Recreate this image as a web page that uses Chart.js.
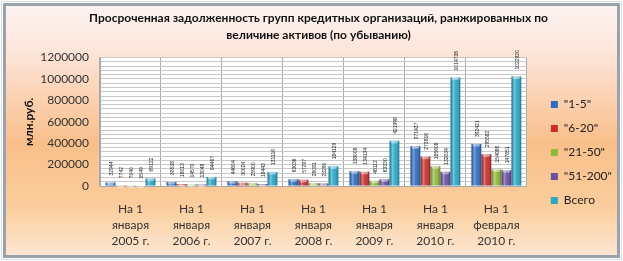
<!DOCTYPE html>
<html><head><meta charset="utf-8">
<script src="https://cdn.jsdelivr.net/npm/chart.js@4/dist/chart.umd.min.js"></script>
<style>html,body{margin:0;padding:0;background:#fff;}canvas{display:block;}</style>
</head><body>
<canvas id="c" width="623" height="261"></canvas>
<script>
const categories = [
  ["На 1","января","2005 г."],
  ["На 1","января","2006 г."],
  ["На 1","января","2007 г."],
  ["На 1","января","2008 г."],
  ["На 1","января","2009 г."],
  ["На 1","января","2010 г."],
  ["На 1","февраля","2010 г."]
];
const seriesNames = ['"1-5"', '"6-20"', '"21-50"', '"51-200"', 'Всего'];
const s1_5 = [32944, 38538, 44604, 63036, 138008, 371437, 392421];
const s6_20 = [7742, 18013, 30024, 57297, 134134, 273816, 295582];
const s21_50 = [7040, 14570, 25900, 26081, 48112, 185608, 154986];
const s51_200 = [5549, 13048, 18443, 23290, 63330, 132034, 147851];
const total = [69122, 84467, 131116, 184129, 421998, 1014736, 1022920];
const yTickLabels = [0, 200000, 400000, 600000, 800000, 1000000, 1200000];
const colors = ['#2f6cc0', '#c4302e', '#8fb73a', '#6b4ea0', '#2aa6c6'];

const bgPlugin = {
  id: 'bg',
  beforeLayout(chart) {
    const lg = chart.legend;
    if (lg && !lg._patched) {
      const f = lg.fit;
      lg.fit = function () { f.call(this); this.width += 7; };
      lg._patched = true;
    }
  },
  afterLayout(chart) {
    const lg = chart.legend;
    if (lg) { lg.top += 44; lg.left += 12; lg.right += 12; }
  },
  beforeDraw(chart) {
    const ctx = chart.ctx, W = chart.width, H = chart.height;
    ctx.save();
    ctx.fillStyle = '#ffffff';
    ctx.fillRect(0, 0, W, H);
    const g = ctx.createLinearGradient(0, 4, 0, H - 4);
    g.addColorStop(0, '#fdf4f2');
    g.addColorStop(0.2, '#fde4d8');
    g.addColorStop(0.55, '#f9bf8a');
    g.addColorStop(0.8, '#fbcd9c');
    g.addColorStop(1, '#fde7d4');
    ctx.fillStyle = g;
    ctx.fillRect(4, 4, W - 8, H - 8);
    ctx.strokeStyle = '#9aa3ad';
    ctx.lineWidth = 3;
    ctx.strokeRect(4.5, 4.5, W - 9, H - 9);
    ctx.strokeStyle = '#d8dde3';
    ctx.lineWidth = 1;
    ctx.strokeRect(1.5, 1.5, W - 3, H - 3);
    const a = chart.chartArea;
    ctx.fillStyle = '#ffffff';
    ctx.fillRect(a.left, a.top, a.right - a.left, a.bottom - a.top);
    ctx.restore();
  }
};

const barStyle = {
  id: 'barStyle',
  afterDatasetsDraw(chart) {
    const ctx = chart.ctx;
    ctx.save();
    chart.data.datasets.forEach((ds, di) => {
      const meta = chart.getDatasetMeta(di);
      meta.data.forEach((bar, i) => {
        const p = bar.getProps(['x', 'y', 'base', 'width'], true);
        const l = p.x - p.width / 2, r = p.x + p.width / 2;
        const g = ctx.createLinearGradient(l, 0, r, 0);
        g.addColorStop(0, 'rgba(0,0,0,0.25)');
        g.addColorStop(0.3, 'rgba(255,255,255,0.35)');
        g.addColorStop(0.55, 'rgba(255,255,255,0.05)');
        g.addColorStop(1, 'rgba(0,0,0,0.3)');
        ctx.fillStyle = g;
        ctx.fillRect(l, p.y, p.width, p.base - p.y);
        ctx.fillStyle = 'rgba(255,255,255,0.45)';
        ctx.beginPath();
        ctx.ellipse(p.x, p.y + 1, p.width / 2 - 1, 1.6, 0, 0, Math.PI * 2);
        ctx.fill();
        ctx.save();
        ctx.translate(p.x + 1.5, p.y - 7);
        ctx.rotate(-Math.PI / 2);
        ctx.fillStyle = '#222';
        ctx.font = '5px "Liberation Sans"';
        ctx.textAlign = 'left';
        ctx.textBaseline = 'middle';
        ctx.fillText(String(ds.data[i]), 0, 0);
        ctx.restore();
      });
    });
    ctx.restore();
  }
};

const datasets = [s1_5, s6_20, s21_50, s51_200, total].map((d, i) => ({
  label: seriesNames[i],
  data: d,
  backgroundColor: colors[i],
  borderWidth: 0,
  categoryPercentage: 0.82,
  barPercentage: 0.98
}));

new Chart(document.getElementById('c'), {
  type: 'bar',
  data: { labels: categories, datasets },
  options: {
    responsive: false,
    animation: false,
    layout: { padding: { left: 20, right: 6, top: 6, bottom: 6 } },
    plugins: {
      title: {
        display: true,
        text: ['Просроченная задолженность групп кредитных организаций, ранжированных по', 'величине активов (по убыванию)'],
        font: { family: 'Lato', size: 12, weight: 'bold', lineHeight: 1.4 },
        color: '#111',
        padding: { top: 4, bottom: 14 }
      },
      legend: {
        position: 'right',
        labels: {
          boxWidth: 7, boxHeight: 7, padding: 12,
          font: { family: 'Lato', size: 12 },
          color: '#222'
        }
      },
      tooltip: { enabled: false }
    },
    scales: {
      x: {
        afterFit(scale) { scale.height = 69; },
        grid: { color: '#a9a9a9', lineWidth: 1, drawTicks: false },
        border: { color: '#a9a9a9' },
        ticks: { font: { family: 'Lato', size: 12, lineHeight: 1.35 }, color: '#333', padding: 15, maxRotation: 0 }
      },
      y: {
        min: 0, max: 1200000,
        afterFit(scale) { scale.width = 80; },
        grid: { color: '#c8c8c8', lineWidth: 1, drawTicks: false },
        border: { color: '#a9a9a9' },
        title: { display: true, text: 'млн.руб.', font: { family: 'Lato', size: 12, weight: 'bold' }, color: '#111', padding: { top: 2, bottom: 0 } },
        ticks: {
          stepSize: 40000,
          autoSkip: false,
          padding: 11,
          font: { family: 'Lato', size: 12 }, color: '#333',
          callback: (v) => yTickLabels.includes(v) ? String(v) : ''
        }
      }
    }
  },
  plugins: [bgPlugin, barStyle]
});
</script>
</body></html>
